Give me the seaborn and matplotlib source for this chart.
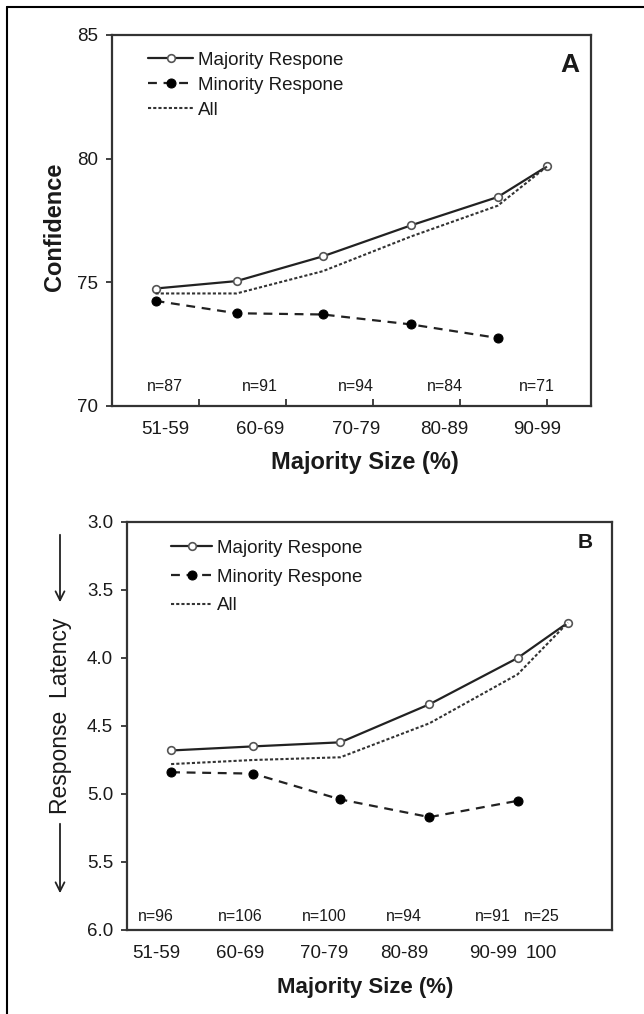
import numpy as np
import pandas as pd
import matplotlib
matplotlib.use("Agg")
import matplotlib.pyplot as plt
from matplotlib.lines import Line2D
import seaborn as sns

# ---------------- data ----------------
categories = ["51-59", "60-69", "70-79", "80-89", "90-99", "100"]

# Panel A: confidence
majority_conf = [74.75, 75.05, 76.05, 77.3, 78.45, 79.7]
minority_conf = [74.25, 73.75, 73.7, 73.3, 72.75]
all_conf = [74.55, 74.55, 75.45, 76.85, 78.1, 79.7]
n_A = [87, 91, 94, 84, 71]
labels_A = ["51-59", "60-69", "70-79", "80-89", "90-99"]

# Panel B: response latency
majority_lat = [4.68, 4.65, 4.62, 4.34, 4.0, 3.74]
minority_lat = [4.84, 4.85, 5.04, 5.17, 5.05]
all_lat = [4.78, 4.75, 4.73, 4.48, 4.12, 3.74]
n_B = [96, 106, 100, 94, 91, 25]
labels_B = ["51-59", "60-69", "70-79", "80-89", "90-99", "100"]

series_names = ["Majority Respone", "Minority Respone", "All"]

# ---------------- layout (positions on the category axis) ----------------
point_pos = [0.5, 1.43, 2.42, 3.43, 4.43, 5.0]
label_pos_A = [0.61, 1.70, 2.80, 3.82, 4.88]
label_pos_B = [0.33, 1.28, 2.24, 3.14, 4.15, 4.70]

sns.set_theme(style="white")
plt.rcParams["font.family"] = ["Liberation Sans", "DejaVu Sans"]
plt.rcParams["text.color"] = "#1a1a1a"
plt.rcParams["xtick.color"] = "#1a1a1a"
plt.rcParams["ytick.color"] = "#1a1a1a"

W, H = 644, 1014
fig = plt.figure(figsize=(W / 100, H / 100), dpi=100)


def frac_ax(left, top, right, bottom):
    return fig.add_axes([left / W, 1 - bottom / H, (right - left) / W, (bottom - top) / H])


axA = frac_ax(112, 35, 591, 406)
axB = frac_ax(127, 522, 612, 930)

LINE = "#222222"


def make_df(vals):
    return pd.DataFrame({"x": point_pos[:len(vals)], "y": vals,
                         "cat": categories[:len(vals)]})


def draw(ax, maj, mino, allv):
    sns.lineplot(data=make_df(maj), x="x", y="y", ax=ax, color=LINE, lw=1.6,
                 marker="o", markersize=5.5, markerfacecolor="white",
                 markeredgecolor="#555555", markeredgewidth=1.2,
                 label=series_names[0], sort=False)
    sns.lineplot(data=make_df(mino), x="x", y="y", ax=ax, color=LINE, lw=1.6,
                 marker="o", markersize=6.5, markerfacecolor="black",
                 markeredgecolor="black", label=series_names[1], sort=False)
    ax.lines[-1].set_dashes((4, 3))
    sns.lineplot(data=make_df(allv), x="x", y="y", ax=ax, color="#333333", lw=1.5,
                 label=series_names[2], sort=False)
    ax.lines[-1].set_dashes((1.5, 1.0))


draw(axA, majority_conf, minority_conf, all_conf)
draw(axB, majority_lat, minority_lat, all_lat)

FS_TICK = 13.5
for ax in (axA, axB):
    ax.set_xlim(0, 5.5)
    ax.set_xlabel("")
    ax.set_ylabel("")
    for s in ax.spines.values():
        s.set_color("#333333")
        s.set_linewidth(1.6)
    ax.tick_params(axis="y", direction="out", length=4, width=1.3, color="#333333",
                   labelsize=FS_TICK, pad=6, left=True)

# Panel A axes
axA.set_ylim(70, 85)
axA.set_yticks([70, 75, 80, 85])
axA.set_xticks([1, 2, 3, 4, 5])
axA.set_xticklabels([""] * 5)
axA.tick_params(axis="x", which="major", direction="in", length=5, width=1.3,
                color="#333333", bottom=True)
axA.set_xticks(label_pos_A, minor=True)
axA.set_xticklabels(labels_A, minor=True)
axA.tick_params(axis="x", which="minor", length=0, labelsize=FS_TICK, pad=11)

# Panel B axes
axB.set_ylim(6.0, 3.0)
axB.set_yticks([3.0, 3.5, 4.0, 4.5, 5.0, 5.5, 6.0])
axB.set_yticklabels([f"{v:.1f}" for v in [3.0, 3.5, 4.0, 4.5, 5.0, 5.5, 6.0]])
axB.set_xticks(label_pos_B)
axB.set_xticklabels(labels_B)
axB.tick_params(axis="x", length=0, labelsize=FS_TICK, pad=11)

# n labels
for p, n in zip(label_pos_A, n_A):
    axA.text(p, 70.8, f"n={n}", ha="center", va="center", fontsize=11.5)
for p, n in zip(label_pos_B, n_B):
    axB.text(p, 5.9, f"n={n}", ha="center", va="center", fontsize=11.5)

# legends
legA = axA.legend(loc="upper left", bbox_to_anchor=(0.06, 0.975), frameon=False,
                  fontsize=FS_TICK, handlelength=2.4, handletextpad=0.25,
                  labelspacing=0.42, borderaxespad=0)
legB = axB.legend(loc="upper left", bbox_to_anchor=(0.075, 0.975), frameon=False,
                  fontsize=FS_TICK, handlelength=2.2, handletextpad=0.25,
                  labelspacing=0.62, borderaxespad=0)

# panel letters
axA.text(0.956, 0.919, "A", transform=axA.transAxes, ha="center", va="center",
         fontsize=19, fontweight="heavy")
axB.text(0.944, 0.949, "B", transform=axB.transAxes, ha="center", va="center",
         fontsize=15, fontweight="bold")

# axis titles
fig.text(365 / W, 1 - 463 / H, "Majority Size (%)", ha="center", va="center",
         fontsize=17, fontweight="bold")
fig.text(365 / W, 1 - 988 / H, "Majority Size (%)", ha="center", va="center",
         fontsize=16, fontweight="bold")
fig.text(55 / W, 1 - 227 / H, "Confidence", ha="center", va="center", rotation=90,
         fontsize=17, fontweight="bold")
fig.text(60 / W, 1 - 716 / H, "Response  Latency", ha="center", va="center",
         rotation=90, fontsize=16.5)

# arrows beside the latency label
for y0, y1 in [(532, 605), (821, 896)]:
    fig.add_artist(matplotlib.patches.FancyArrowPatch(
        (60 / W, 1 - y0 / H), (60 / W, 1 - y1 / H), transform=fig.transFigure,
        arrowstyle="->", mutation_scale=16, lw=1.3, color="#222222"))

# outer frame lines (top and left)
fig.add_artist(Line2D([7 / W, 7 / W], [0, 1 - 7 / H], transform=fig.transFigure,
                      color="black", lw=1.5))
fig.add_artist(Line2D([7 / W, 1], [1 - 7 / H, 1 - 7 / H], transform=fig.transFigure,
                      color="black", lw=1.5))

fig.savefig("out.png", dpi=100, facecolor="white")
